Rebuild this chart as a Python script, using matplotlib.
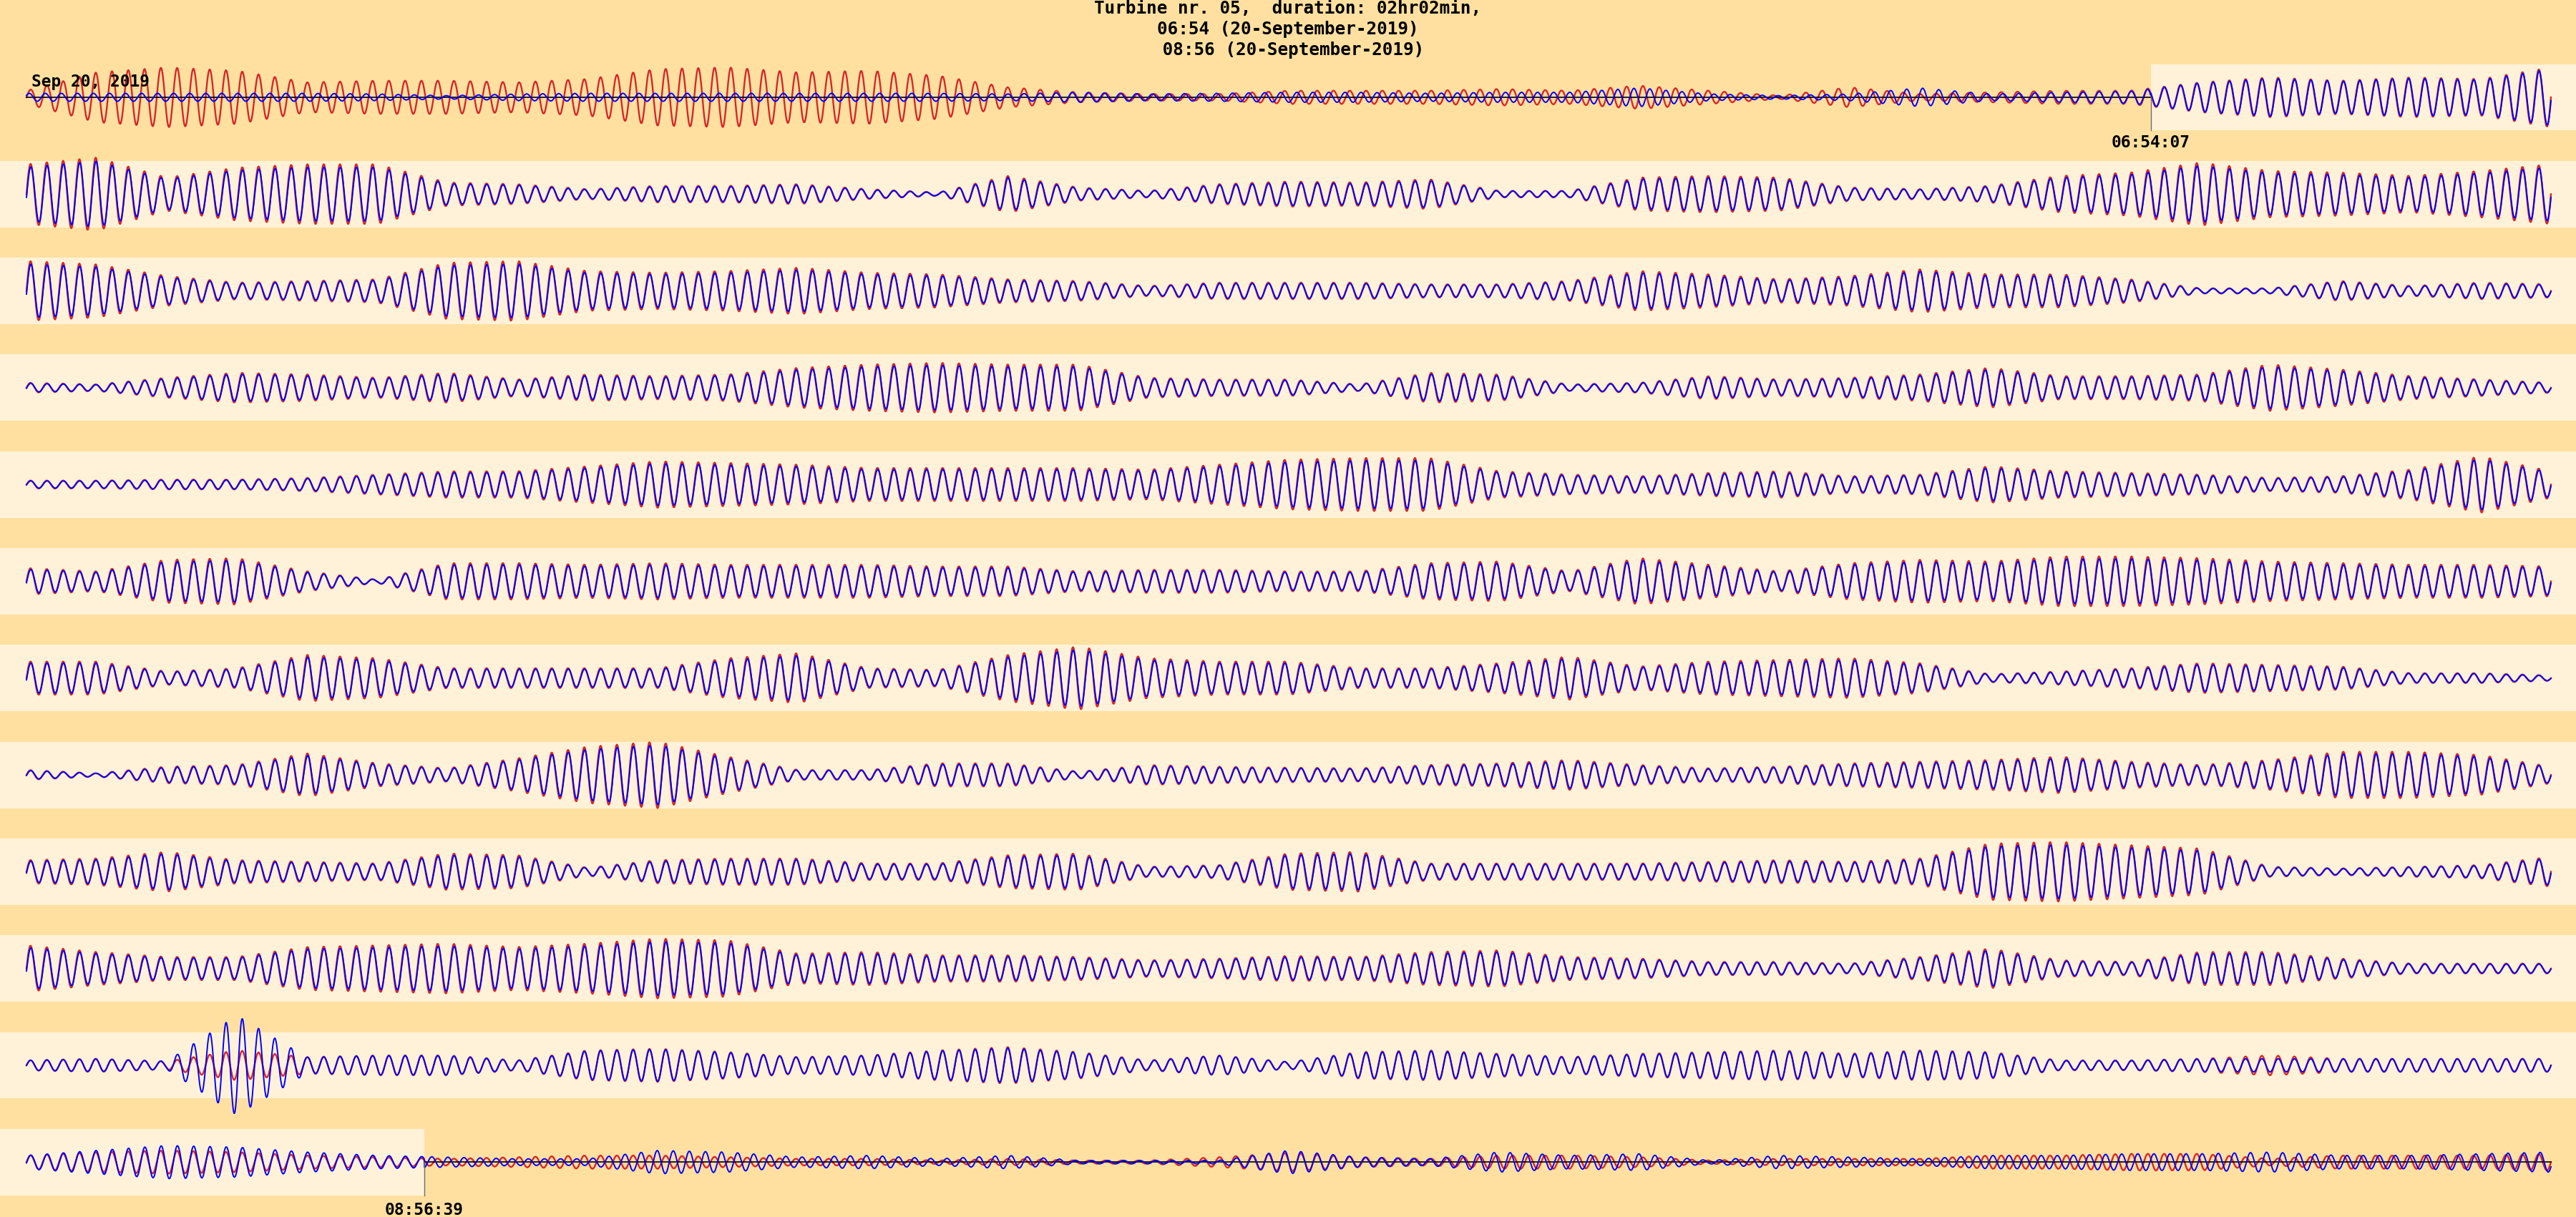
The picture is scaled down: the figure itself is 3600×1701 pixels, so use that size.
import numpy as np
import matplotlib
matplotlib.use("Agg")
import matplotlib.pyplot as plt
from matplotlib.patches import Rectangle

# ---------------- text ----------------
title_lines = ["Turbine nr. 05,  duration: 02hr02min,",
               "06:54 (20-September-2019)",
               " 08:56 (20-September-2019)"]
date_label = "Sep 20, 2019"
start_label = "06:54:07"
end_label = "08:56:39"

# position (fraction of a row) where the record starts (row 0) / ends (last row)
start_frac = 0.8415
end_frac = 0.1576
cycles_per_row = 155

# ---------------- envelopes (amplitude relative to band half height), 37 points per row ----------------
red_env = [
    [0.2, 0.75, 0.9, 0.8, 0.45, 0.5, 0.5, 0.45, 0.55, 0.85, 0.9, 0.75, 0.8, 0.65, 0.3, 0.15, 0.1, 0.1, 0.2,
     0.2, 0.2, 0.25, 0.2, 0.35, 0.2, 0.05, 0.3, 0.1, 0.15, 0.2, 0.2, 0.45, 0.6, 0.5, 0.6, 0.55, 0.9],
    [0.9, 1.1, 0.5, 0.8, 0.9, 0.9, 0.35, 0.3, 0.15, 0.25, 0.25, 0.3, 0.15, 0.05, 0.55, 0.2, 0.1, 0.3, 0.38,
     0.35, 0.45, 0.1, 0.1, 0.5, 0.55, 0.5, 0.2, 0.15, 0.25, 0.55, 0.65, 0.95, 0.7, 0.65, 0.55, 0.7, 0.9],
    [0.9, 0.8, 0.45, 0.25, 0.3, 0.35, 0.85, 0.9, 0.6, 0.55, 0.6, 0.7, 0.55, 0.5, 0.35, 0.3, 0.15, 0.25, 0.25,
     0.25, 0.2, 0.2, 0.3, 0.6, 0.5, 0.35, 0.45, 0.65, 0.5, 0.5, 0.35, 0.08, 0.08, 0.3, 0.15, 0.25, 0.2],
    [0.15, 0.1, 0.3, 0.45, 0.4, 0.3, 0.45, 0.25, 0.4, 0.35, 0.4, 0.6, 0.7, 0.75, 0.7, 0.7, 0.3, 0.25, 0.25,
     0.1, 0.45, 0.4, 0.1, 0.15, 0.35, 0.25, 0.3, 0.4, 0.6, 0.35, 0.35, 0.4, 0.7, 0.55, 0.35, 0.25, 0.15],
    [0.12, 0.12, 0.15, 0.15, 0.2, 0.3, 0.4, 0.4, 0.55, 0.7, 0.65, 0.6, 0.5, 0.5, 0.5, 0.5, 0.45, 0.6, 0.75,
     0.8, 0.8, 0.4, 0.3, 0.25, 0.35, 0.4, 0.25, 0.3, 0.55, 0.4, 0.35, 0.3, 0.2, 0.25, 0.45, 0.85, 0.4],
    [0.4, 0.3, 0.65, 0.7, 0.3, 0.05, 0.55, 0.55, 0.5, 0.55, 0.5, 0.5, 0.5, 0.45, 0.45, 0.3, 0.35, 0.35, 0.3,
     0.3, 0.55, 0.6, 0.3, 0.7, 0.5, 0.3, 0.55, 0.65, 0.6, 0.75, 0.75, 0.7, 0.6, 0.55, 0.5, 0.5, 0.45],
    [0.5, 0.5, 0.2, 0.3, 0.7, 0.6, 0.3, 0.3, 0.3, 0.3, 0.6, 0.75, 0.3, 0.25, 0.7, 0.95, 0.6, 0.5, 0.5,
     0.3, 0.3, 0.45, 0.65, 0.35, 0.5, 0.55, 0.6, 0.45, 0.12, 0.2, 0.3, 0.45, 0.4, 0.35, 0.15, 0.15, 0.08],
    [0.15, 0.05, 0.25, 0.3, 0.65, 0.35, 0.2, 0.5, 0.85, 1.0, 0.55, 0.15, 0.15, 0.35, 0.35, 0.1, 0.3, 0.25, 0.22,
     0.2, 0.3, 0.35, 0.45, 0.3, 0.2, 0.25, 0.35, 0.4, 0.45, 0.55, 0.4, 0.3, 0.45, 0.7, 0.7, 0.6, 0.25],
    [0.35, 0.4, 0.6, 0.35, 0.3, 0.25, 0.55, 0.5, 0.12, 0.35, 0.4, 0.4, 0.25, 0.25, 0.5, 0.55, 0.15, 0.2, 0.55,
     0.6, 0.25, 0.25, 0.25, 0.25, 0.3, 0.35, 0.3, 0.4, 0.85, 0.9, 0.8, 0.7, 0.15, 0.1, 0.15, 0.2, 0.45],
    [0.7, 0.5, 0.35, 0.35, 0.65, 0.7, 0.75, 0.65, 0.75, 0.9, 0.85, 0.45, 0.5, 0.4, 0.4, 0.35, 0.25, 0.3, 0.38,
     0.35, 0.5, 0.55, 0.35, 0.3, 0.2, 0.2, 0.15, 0.35, 0.6, 0.25, 0.2, 0.5, 0.5, 0.3, 0.15, 0.15, 0.15],
    [0.15, 0.2, 0.12, 0.45, 0.25, 0.3, 0.3, 0.15, 0.45, 0.5, 0.4, 0.25, 0.3, 0.45, 0.55, 0.4, 0.15, 0.3, 0.1,
     0.4, 0.45, 0.35, 0.25, 0.35, 0.4, 0.45, 0.35, 0.45, 0.4, 0.15, 0.15, 0.2, 0.3, 0.2, 0.2, 0.2, 0.2],
    [0.2, 0.3, 0.35, 0.3, 0.2, 0.15, 0.1, 0.15, 0.2, 0.2, 0.15, 0.1, 0.1, 0.05, 0.1, 0.05, 0.05, 0.15, 0.28,
     0.15, 0.1, 0.2, 0.2, 0.15, 0.05, 0.1, 0.1, 0.1, 0.2, 0.2, 0.25, 0.25, 0.1, 0.2, 0.2, 0.2, 0.25],
]

# rows where the blue trace differs from the red one
blue_env_special = {
    0: [0.12, 0.12, 0.12, 0.12, 0.12, 0.1, 0.05, 0.1, 0.12, 0.12, 0.12, 0.12, 0.12, 0.12, 0.1, 0.15, 0.1, 0.12, 0.15,
        0.15, 0.12, 0.15, 0.15, 0.28, 0.1, 0.05, 0.1, 0.28, 0.1, 0.15, 0.18, 0.43, 0.57, 0.48, 0.57, 0.52, 0.85],
    10: [0.15, 0.19, 0.12, 1.5, 0.24, 0.29, 0.29, 0.14, 0.43, 0.48, 0.38, 0.24, 0.29, 0.43, 0.52, 0.38, 0.14, 0.29, 0.1,
         0.38, 0.43, 0.33, 0.24, 0.33, 0.38, 0.43, 0.33, 0.43, 0.38, 0.14, 0.14, 0.19, 0.2, 0.19, 0.19, 0.19, 0.19],
    11: [0.2, 0.35, 0.5, 0.45, 0.3, 0.2, 0.15, 0.1, 0.1, 0.35, 0.3, 0.15, 0.2, 0.1, 0.2, 0.05, 0.05, 0.05, 0.35,
         0.15, 0.1, 0.3, 0.2, 0.25, 0.05, 0.2, 0.15, 0.1, 0.2, 0.2, 0.25, 0.25, 0.3, 0.2, 0.2, 0.25, 0.3],
}
blue_detune = {0: 0.015, 10: 0.0, 11: 0.012}
blue_shift = {0: 0.6, 10: 0.1, 11: 0.5}
blue_ratio = 0.9      # blue amplitude relative to red where they coincide
blue_lag = 0.12       # small phase lag of the blue trace (radians)

# ---------------- style ----------------
dark_bg = "#FFE0A0"
light_bg = "#FFF2D8"
red_c = "#D62728"
blue_c = "#0000FF"
band_half = 0.343       # band half height in row units
n_rows = len(red_env)

W, H = 3600, 1701
fig = plt.figure(figsize=(W / 100, H / 100), dpi=100)
fig.patch.set_facecolor(dark_bg)
ax = fig.add_axes([0, 0, 1, 1])
ax.set_facecolor(dark_bg)
x_left, x_right = -37 / 3528, (W - 37) / 3528
row0_px, spacing_px = 136.0, 135.3
ax.set_xlim(x_left, x_right)
ax.set_ylim(-(H - row0_px) / spacing_px, row0_px / spacing_px)
ax.axis("off")

# light bands
for i in range(n_rows):
    x0, x1 = x_left, x_right
    if i == 0:
        x0 = start_frac
    if i == n_rows - 1:
        x1 = end_frac
    ax.add_patch(Rectangle((x0, -i - band_half), x1 - x0, 2 * band_half,
                           facecolor=light_bg, edgecolor="none", zorder=0))

env_x = np.linspace(0, 1, len(red_env[0]))
f = np.linspace(0, 1, 9000)
for i in range(n_rows):
    phase = 2 * np.pi * cycles_per_row * (f + i)
    r_env = np.interp(f, env_x, red_env[i])
    if i in blue_env_special:
        b_env = np.interp(f, env_x, blue_env_special[i])
        if i == 0:
            mask = f < start_frac
        elif i == n_rows - 1:
            mask = f > end_frac
        else:
            mask = np.ones_like(f, dtype=bool)
        b_phase = phase - blue_lag + np.where(
            mask, 2 * np.pi * cycles_per_row * blue_detune[i] * f + blue_shift[i], 0.0)
    else:
        b_env = blue_ratio * r_env
        b_phase = phase - blue_lag
    yr = -i + band_half * r_env * np.sin(phase)
    yb = -i + band_half * b_env * np.sin(b_phase)
    ax.plot(f, yr, color=red_c, lw=1.7, zorder=2)
    if i == 0:
        ax.plot([0, start_frac], [0, 0], color="black", lw=1.2, zorder=3)
    if i == n_rows - 1:
        ax.plot([end_frac, 1], [-i, -i], color="black", lw=1.2, zorder=3)
    ax.plot(f, yb, color=blue_c, lw=1.4, zorder=4)

# start / end markers
ax.plot([start_frac, start_frac], [0, -band_half], color="#707070", lw=1.0, zorder=5)
ax.plot([end_frac, end_frac], [-(n_rows - 1), -(n_rows - 1) - band_half], color="#707070", lw=1.0, zorder=5)

font = dict(family="DejaVu Sans Mono", weight="bold", color="black")
for k, line in enumerate(title_lines):
    fig.text(0.5, 1 - (12 + 29 * k) / H, line, ha="center", va="center", fontsize=17.5, **font)
fig.text(44 / W, 1 - 115 / H, date_label, ha="left", va="center", fontsize=16.5, **font)
ax.text(start_frac, -(200 - row0_px) / spacing_px, start_label, ha="center", va="center", fontsize=16.5, **font)
ax.text(end_frac, -(1691 - row0_px) / spacing_px, end_label, ha="center", va="center", fontsize=16.5, **font)

fig.savefig("out.png", dpi=100, facecolor=dark_bg)
